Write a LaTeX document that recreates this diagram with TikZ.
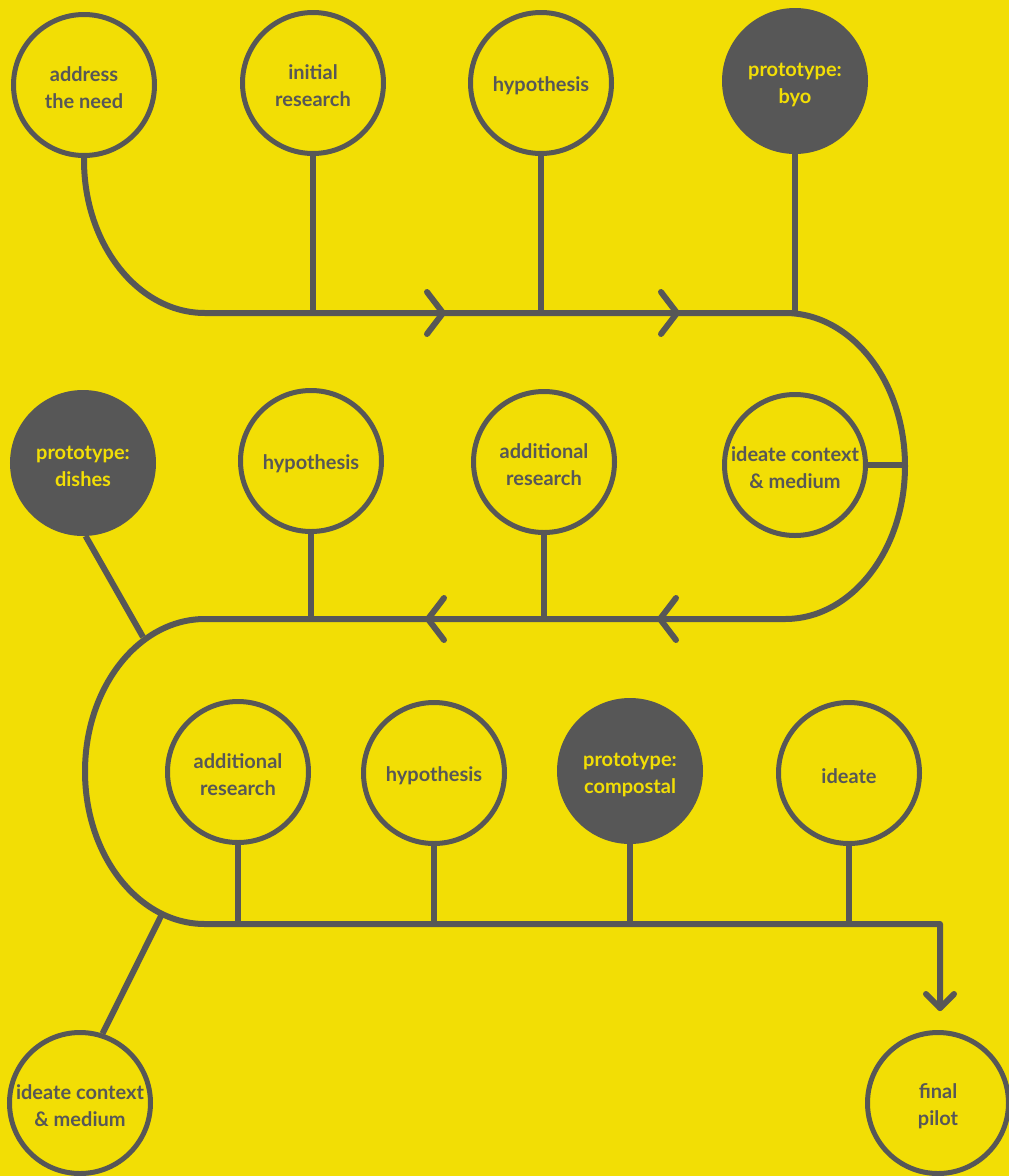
\documentclass[tikz,border=0pt]{standalone}
\usepackage{fontspec}
\setmainfont{Lato}

\begin{document}
\begin{tikzpicture}[x=1pt,y=-1pt]
  \definecolor{bgyellow}{HTML}{F2DE05}
  \definecolor{ink}{HTML}{575757}
  \tikzset{
    stage/.style={circle, draw=ink, line width=5pt, minimum size=141pt,
                  inner sep=0pt, align=center, text=ink, text height=47.5pt,
                  font=\fontsize{20}{27}\selectfont\bfseries},
    proto/.style={stage, fill=ink, text=bgyellow},
    oneline/.style={text height=20.5pt},
    flow/.style={draw=ink, line width=6pt, line cap=round, line join=round},
    stem/.style={draw=ink, line width=6pt},
  }

  %--- background ---
  \fill[bgyellow] (0,0) rectangle (1009,1176);
  \useasboundingbox (0,0) rectangle (1009,1176);

  %--- first row ---
  \node[stage] (need)    at (84,85)  {address\\the need};
  \node[stage] (initres) at (313,83) {initial\\research};
  \node[stage,oneline] (hypA) at (541,83) {hypothesis};
  \node[proto] (byo)     at (795,81) {prototype:\\byo};

  %--- second row ---
  \node[proto] (dishes)  at (83,463)  {prototype:\\dishes};
  \node[stage,oneline] (hypB) at (311,461) {hypothesis};
  \node[stage] (addresB) at (544,462) {additional\\research};
  \node[stage] (ctxA)    at (795,465) {ideate context\\\& medium};

  %--- third row ---
  \node[stage] (addresC)   at (238,772) {additional\\research};
  \node[stage,oneline] (hypC) at (434,773) {hypothesis};
  \node[proto] (compostal) at (630,771) {prototype:\\compostal};
  \node[stage,oneline] (ideate) at (849,773) {ideate};

  %--- bottom ---
  \node[stage] (ctxB)  at (80,1103)  {ideate context\\\& medium};
  \node[stage] (pilot) at (938,1103) {final\\pilot};

  %--- join points ---
  \coordinate (rowA)       at (0,313);
  \coordinate (rowB)       at (0,619);
  \coordinate (rowC)       at (0,924);
  \coordinate (ctxloop)    at (905,465);
  \coordinate (dishesjoin) at (143,637);
  \coordinate (ctxjoin)    at (161,916);
  \coordinate (pilottip)   at (940,1008);

  %--- main winding line ---
  \draw[flow] (need.south) -- (84,160)
      arc[start angle=180, end angle=90, x radius=121, y radius=153]
      -- (785,313)
      arc[start angle=-90, end angle=90, x radius=120, y radius=153]
      -- (205,619)
      arc[start angle=-90, end angle=-270, x radius=120, y radius=152.5]
      -- (940,924) -- (pilottip);

  %--- direction marks ---
  \foreach \x in {443,677}
    \draw[flow] (\x-16,292) -- (\x,313) -- (\x-16,334);
  \foreach \x in {428,660}
    \draw[flow] (\x+16,598) -- (\x,619) -- (\x+16,640);
  \draw[flow] (926,994) -- (pilottip) -- (954,994);

  %--- stems ---
  \foreach \n in {initres,hypA,byo}
    \draw[stem] (\n) -- (\n |- rowA);
  \foreach \n in {hypB,addresB}
    \draw[stem] (\n) -- (\n |- rowB);
  \foreach \n in {addresC,hypC,compostal,ideate}
    \draw[stem] (\n) -- (\n |- rowC);
  \draw[stem] (ctxA) -- (ctxloop);
  \draw[stem] (dishes.-88) -- (dishesjoin);
  \draw[stem] (ctxB.72) -- (ctxjoin);

\end{tikzpicture}
\end{document}
